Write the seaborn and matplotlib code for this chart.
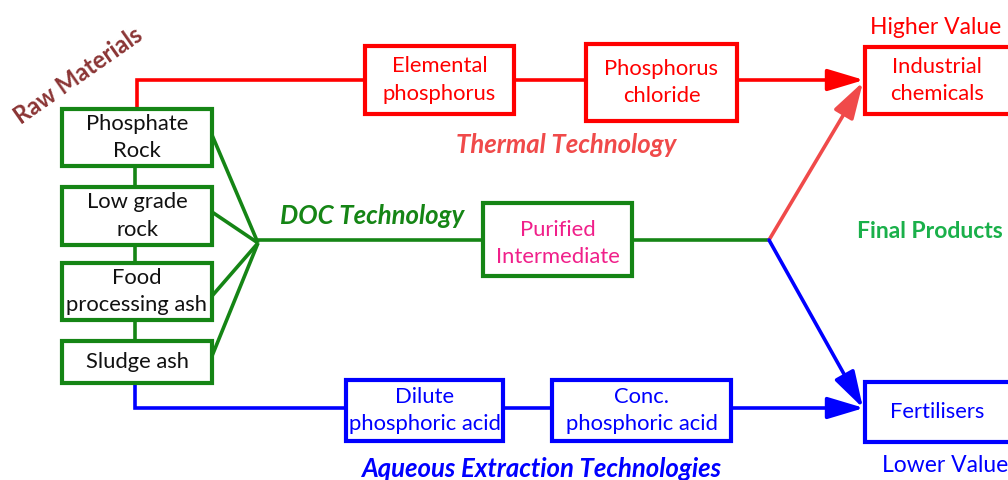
import matplotlib
matplotlib.use("Agg")
import matplotlib.pyplot as plt
from matplotlib.patches import Rectangle, FancyArrowPatch
import seaborn as sns

sns.set_theme(style="white")
plt.rcParams['font.family'] = ['Lato', 'DejaVu Sans']

# ---- text content ----
raw_labels = ["Phosphate\nRock", "Low grade\nrock", "Food\nprocessing ash", "Sludge ash"]
thermal_labels = ["Elemental\nphosphorus", "Phosphorus\nchloride"]
doc_labels = ["Purified\nIntermediate"]
aqueous_labels = ["Dilute\nphosphoric acid", "Conc.\nphosphoric acid"]
product_labels = ["Industrial\nchemicals", "Fertilisers"]
route_titles = ["Thermal Technology", "DOC Technology", "Aqueous Extraction Technologies"]
value_labels = ["Higher Value", "Lower Value"]
side_titles = ["Raw Materials", "Final Products"]

RED = "#ff0000"
LRED = "#f04a4a"
GREEN = "#158515"
BLUE = "#0000ff"
MAG = "#f0208a"
FGREEN = "#1ab04a"
BROWN = "#8b3535"

# ---- geometry (pixel layout) ----
raw_boxes = [(62, 109, 212, 166), (62, 187, 212, 245), (62, 263, 212, 320), (62, 341, 212, 383)]
thermal_boxes = [(365, 46, 514, 114), (586, 44, 737, 121)]
doc_boxes = [(483, 203, 632, 276)]
aqueous_boxes = [(346, 380, 503, 441), (552, 380, 731, 441)]
product_boxes = [(865, 47, 1015, 114), (865, 382, 1015, 442)]

fig = plt.figure(figsize=(10.08, 4.8), dpi=100)
ax = fig.add_axes([0, 0, 1, 1])
ax.set_xlim(0, 1008)
ax.set_ylim(480, 0)
ax.axis("off")

FS = 15.8
LW = 2.6


def box(b, label, edge, tcolor, fs=FS, dx=0, dy=0):
    x0, y0, x1, y1 = b
    ax.add_patch(Rectangle((x0, y0), x1 - x0, y1 - y0, fill=True, facecolor="white",
                           edgecolor=edge, lw=LW + 0.4, zorder=3))
    ax.text((x0 + x1) / 2 + dx, (y0 + y1) / 2 + dy, label, ha="center", va="center",
            color=tcolor, fontsize=fs, zorder=4, linespacing=1.45)


def line(xs, ys, c, lw=LW):
    ax.plot(xs, ys, color=c, lw=lw, solid_capstyle="butt", solid_joinstyle="miter", zorder=2)


def arrow(p0, p1, c):
    ax.add_patch(FancyArrowPatch(p0, p1, arrowstyle="-|>,head_length=14,head_width=4.2",
                                 mutation_scale=1.6, color=c, lw=LW, shrinkA=0, shrinkB=0,
                                 zorder=2))


# raw materials
for b, lab in zip(raw_boxes, raw_labels):
    box(b, lab, GREEN, "#111111")
for a, b in zip(raw_boxes[:-1], raw_boxes[1:]):
    line([135, 135], [a[3], b[1]], GREEN)

# thermal route
line([137, 137, 365], [109, 80, 80], RED)
line([514, 586], [80, 80], RED)
arrow((737, 80), (864, 80), RED)
for b, lab in zip(thermal_boxes, thermal_labels):
    box(b, lab, RED, RED)

# DOC route
hub = (258, 243)
fan_y = [135, 212, 296, 356]
for fy in fan_y:
    line([212, hub[0]], [fy, hub[1]], GREEN)
line([hub[0], 483], [240, 240], GREEN)
line([632, 769], [240, 240], GREEN)
box(doc_boxes[0], doc_labels[0], GREEN, MAG, dy=4)
arrow((769, 240), (863, 82), LRED)
arrow((769, 240), (863, 408), BLUE)

# aqueous route
line([135, 135, 346], [383, 408, 408], BLUE)
line([503, 552], [408, 408], BLUE)
arrow((731, 408), (864, 408), BLUE)
for b, lab in zip(aqueous_boxes, aqueous_labels):
    box(b, lab, BLUE, BLUE)

# products
box(product_boxes[0], product_labels[0], RED, RED, dx=-3)
box(product_boxes[1], product_labels[1], BLUE, BLUE, dx=-3)

# titles
TF = 18.5
ax.text(566, 145, route_titles[0], color=LRED, fontsize=TF, fontweight="bold",
        fontstyle="italic", ha="center", va="center")
ax.text(372, 216, route_titles[1], color=GREEN, fontsize=TF, fontweight="bold",
        fontstyle="italic", ha="center", va="center")
ax.text(541, 469, route_titles[2], color=BLUE, fontsize=TF, fontweight="bold",
        fontstyle="italic", ha="center", va="center")
ax.text(936, 27, value_labels[0], color=RED, fontsize=16.5, ha="center", va="center")
ax.text(945, 466, value_labels[1], color=BLUE, fontsize=16.5, ha="center", va="center")
ax.text(78, 76, side_titles[0], color=BROWN, fontsize=17, fontweight="bold",
        ha="center", va="center", rotation=35)
ax.text(930, 232, side_titles[1], color=FGREEN, fontsize=16.5, fontweight="bold",
        ha="center", va="center")

fig.savefig("out.png", dpi=100)
